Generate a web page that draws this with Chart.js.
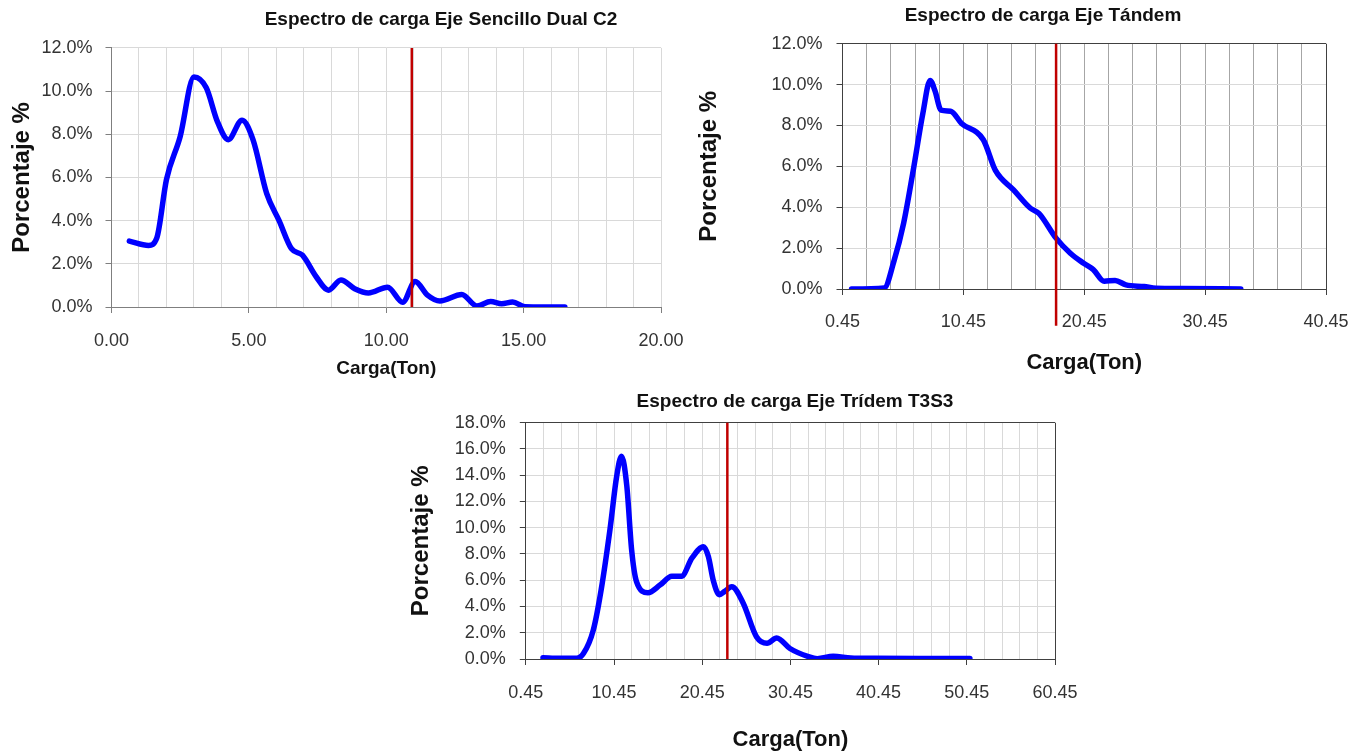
<!DOCTYPE html>
<html>
<head>
<meta charset="utf-8">
<title>Espectro de carga</title>
<script src="https://cdn.jsdelivr.net/npm/chart.js@4.4.0/dist/chart.umd.min.js"></script>
<style>
  html, body { margin: 0; padding: 0; background: #fff; overflow: hidden; }
  body { width: 1367px; height: 753px; position: relative; }
  canvas { position: absolute; }
</style>
</head>
<body>
<canvas id="c2Chart" width="880" height="380" style="left:0;top:0"></canvas>
<canvas id="tandemChart" width="696" height="376" style="left:695px;top:0"></canvas>
<canvas id="tridemChart" width="776" height="373" style="left:407px;top:380px"></canvas>
<script>
// Eje Sencillo Dual C2
const c2Carga = [0.65, 1.35, 1.65, 2.0, 2.5, 3.0, 3.45, 3.85, 4.25, 4.75, 5.15, 5.65, 6.1, 6.55, 6.95, 7.45, 7.9, 8.35, 8.85, 9.35, 10.05, 10.6, 11.05, 11.5, 11.95, 12.75, 13.3, 13.8, 14.2, 14.6, 15.05, 15.75, 16.5];
const c2Pct = [3.05, 2.85, 3.2, 5.9, 7.9, 10.65, 10.15, 8.6, 7.75, 8.65, 7.75, 5.25, 4.0, 2.7, 2.4, 1.4, 0.78, 1.25, 0.85, 0.65, 0.92, 0.22, 1.18, 0.55, 0.28, 0.58, 0.05, 0.25, 0.15, 0.23, 0.01, 0, 0];
const c2Limit = 10.93;
const c2XLabels = [0, 5, 10, 15, 20];

// Eje Tandem
const tandemCarga = [1.2, 3.9, 4.7, 5.5, 6.3, 7.1, 7.7, 8.1, 8.6, 9.4, 10.3, 12.1, 13.1, 14.6, 16.0, 16.7, 18.1, 19.3, 20.4, 21.2, 22.1, 23.0, 23.9, 25.4, 26.4, 28.5, 33.4];
const tandemPct = [0, 0.05, 1.35, 3.2, 5.8, 8.6, 10.2, 9.7, 8.75, 8.7, 8.1, 7.3, 5.8, 4.85, 3.95, 3.7, 2.5, 1.75, 1.26, 0.95, 0.38, 0.42, 0.2, 0.12, 0.04, 0.03, 0];
const tandemLimit = 18.12;
const tandemXLabels = [0.45, 10.45, 20.45, 30.45, 40.45];

// Eje Tridem T3S3
const tridemCarga = [2.4, 4.3, 6.2, 7.0, 8.1, 9.0, 10.0, 10.75, 11.3, 11.9, 12.45, 13.0, 14.3, 15.7, 17.0, 18.1, 19.3, 20.6, 21.15, 21.7, 22.4, 23.0, 23.8, 25.1, 26.6, 27.8, 28.9, 30.4, 32.5, 33.5, 35.3, 37.3, 40.0, 45.0, 50.8];
const tridemPct = [0.1, 0.05, 0.05, 0.43, 2.2, 5.3, 9.9, 13.9, 15.45, 13.2, 8.3, 5.9, 5.05, 5.65, 6.3, 6.3, 7.7, 8.55, 7.8, 6.0, 4.9, 5.15, 5.5, 4.25, 1.7, 1.2, 1.6, 0.8, 0.18, 0.02, 0.2, 0.08, 0.05, 0.03, 0.03];
const tridemLimit = 23.3;
const tridemXLabels = [0.45, 10.45, 20.45, 30.45, 40.45, 50.45, 60.45];

const FONT = "'Liberation Sans', Arial, sans-serif";

function gridTicks(min, max, step) {
  const out = [];
  for (let v = min; v <= max + 1e-9; v += step) out.push(Math.round(v * 100) / 100);
  return out;
}

function isMajor(v, labels) {
  return labels.some(l => Math.abs(l - v) < 1e-6);
}

function buildChart(id, cfg) {
  const xTicks = gridTicks(cfg.xMin, cfg.xMax, cfg.xStep);
  const onEdge = (v, edge) => Math.abs(v - edge) < 1e-6;
  new Chart(document.getElementById(id), {
    type: 'line',
    data: {
      datasets: [
        {
          data: cfg.carga.map((x, i) => ({ x, y: cfg.pct[i] })),
          borderColor: '#0000ff',
          borderWidth: 5.5,
          pointRadius: 0,
          cubicInterpolationMode: 'monotone',
          borderCapStyle: 'round',
          borderJoinStyle: 'round',
          order: 2
        },
        {
          data: [{ x: cfg.limit, y: cfg.limitFrom }, { x: cfg.limit, y: cfg.yMax }],
          borderColor: '#c00000',
          borderWidth: 2.5,
          pointRadius: 0,
          clip: false,
          order: 1
        }
      ]
    },
    options: {
      responsive: false,
      animation: false,
      devicePixelRatio: 1,
      layout: { padding: cfg.padding },
      plugins: {
        legend: { display: false },
        tooltip: { enabled: false },
        title: {
          display: true,
          text: cfg.title,
          color: '#111',
          font: { family: FONT, size: 19, weight: 'bold' },
          padding: cfg.titlePad
        }
      },
      scales: {
        x: {
          type: 'linear',
          min: cfg.xMin,
          max: cfg.xMax,
          afterBuildTicks: s => { s.ticks = xTicks.map(v => ({ value: v })); },
          afterFit: s => { s.height = cfg.xHeight; },
          ticks: {
            autoSkip: false,
            maxRotation: 0,
            padding: cfg.xTickPad,
            color: '#333',
            font: { family: FONT, size: 18 },
            callback: v => isMajor(v, cfg.xLabels) ? v.toFixed(2) : ''
          },
          grid: {
            color: ctx => (cfg.frame && ctx.tick && onEdge(ctx.tick.value, cfg.xMax)) ? cfg.frame : cfg.gridX,
            tickColor: ctx => (ctx.tick && isMajor(ctx.tick.value, cfg.xLabels)) ? cfg.axisColor : 'transparent',
            tickLength: 6
          },
          border: { color: cfg.axisColor, width: 1 },
          title: {
            display: true,
            text: 'Carga(Ton)',
            color: '#111',
            font: { family: FONT, size: cfg.xTitleSize, weight: 'bold' },
            padding: 0
          }
        },
        y: {
          min: 0,
          max: cfg.yMax,
          afterFit: s => { s.width = cfg.yWidth; },
          ticks: {
            stepSize: 2,
            padding: cfg.yTickPad,
            color: '#333',
            font: { family: FONT, size: 18 },
            callback: v => v.toFixed(1) + '%'
          },
          grid: {
            color: ctx => (cfg.frame && ctx.tick && onEdge(ctx.tick.value, cfg.yMax)) ? cfg.frame : cfg.gridY,
            tickColor: cfg.axisColor,
            tickLength: 6
          },
          border: { color: cfg.axisColor, width: 1 },
          title: {
            display: true,
            text: 'Porcentaje %',
            color: '#111',
            font: { family: FONT, size: 24, weight: 'bold' },
            padding: { top: cfg.yTitlePad, bottom: 0 }
          }
        },
        yR: {
          position: 'right',
          display: true,
          ticks: { display: false },
          grid: { display: false },
          border: { display: false },
          afterFit: s => { s.width = cfg.rightPad; }
        }
      }
    }
  });
}

buildChart('c2Chart', {
  title: 'Espectro de carga Eje Sencillo Dual C2',
  carga: c2Carga, pct: c2Pct, limit: c2Limit, limitFrom: 0,
  xMin: 0, xMax: 20, xStep: 1, xLabels: c2XLabels, yMax: 12,
  padding: { left: 8, right: 6, top: 0, bottom: 0 },
  titlePad: { top: 8.4, bottom: 16.7 },
  yWidth: 103.5, rightPad: 213, xHeight: 73,
  xTickPad: 17, yTickPad: 13, yTitlePad: 0, xTitleSize: 19,
  axisColor: '#7f7f7f', gridX: '#d9d9d9', gridY: '#d9d9d9', frame: null
});

buildChart('tandemChart', {
  title: 'Espectro de carga Eje Tándem',
  carga: tandemCarga, pct: tandemPct, limit: tandemLimit, limitFrom: -1.8,
  xMin: 0.45, xMax: 40.45, xStep: 2, xLabels: tandemXLabels, yMax: 12,
  padding: { left: 0, right: 0, top: 0, bottom: 0 },
  titlePad: { top: 4.6, bottom: 16.3 },
  yWidth: 147.5, rightPad: 65, xHeight: 87,
  xTickPad: 16, yTickPad: 14, yTitlePad: 0, xTitleSize: 22,
  axisColor: '#404040', gridX: '#a6a6a6', gridY: '#d9d9d9', frame: '#404040'
});

buildChart('tridemChart', {
  title: 'Espectro de carga Eje Trídem T3S3',
  carga: tridemCarga, pct: tridemPct, limit: tridemLimit, limitFrom: 0,
  xMin: 0.45, xMax: 60.45, xStep: 2, xLabels: tridemXLabels, yMax: 18,
  padding: { left: 0, right: 0, top: 0, bottom: 0 },
  titlePad: { top: 10.6, bottom: 9.3 },
  yWidth: 118.8, rightPad: 128, xHeight: 94,
  xTickPad: 17, yTickPad: 14, yTitlePad: 0, xTitleSize: 22,
  axisColor: '#404040', gridX: '#d9d9d9', gridY: '#d9d9d9', frame: '#404040'
});
</script>
</body>
</html>
